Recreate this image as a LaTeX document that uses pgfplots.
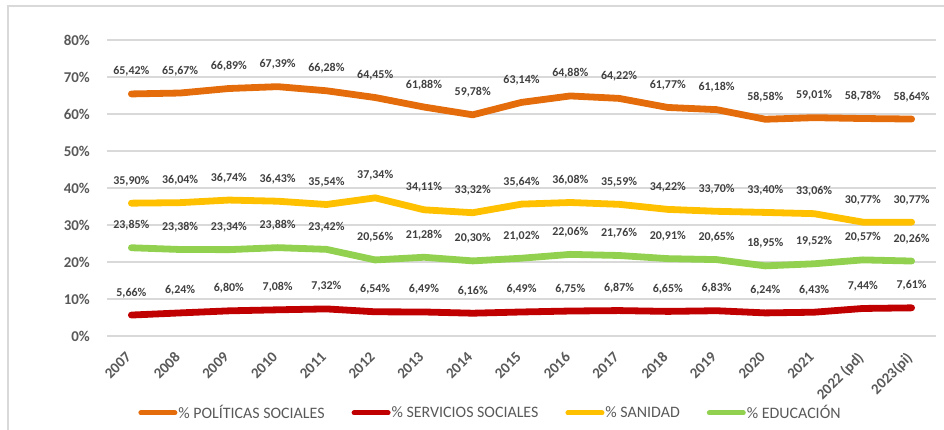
\documentclass[border=0pt]{standalone}
\usepackage{fontspec}
\setmainfont{Carlito}
\usepackage{pgfplots}
\pgfplotsset{compat=1.18}
\definecolor{cPol}{RGB}{228,108,10}
\definecolor{cSer}{RGB}{192,0,0}
\definecolor{cSan}{RGB}{255,192,0}
\definecolor{cEdu}{RGB}{146,208,80}
\definecolor{gridc}{RGB}{217,217,217}
\definecolor{tickc}{RGB}{89,89,89}
\definecolor{lblc}{RGB}{64,64,64}
\begin{document}
\begin{tikzpicture}
\useasboundingbox (0bp,0bp) rectangle (944bp,430bp);
\draw[gridc, line width=1.5bp] (8bp,-10bp) -- (8bp,424bp) -- (960bp,424bp);
\begin{axis}[
  at={(107bp,94bp)}, anchor=south west,
  scale only axis, width=829bp, height=296bp,
  xmin=-0.5, xmax=16.5, ymin=0, ymax=80,
  ytick={0,10,...,80},
  xtick={0,...,16},
  xticklabels={2007,2008,2009,2010,2011,2012,2013,2014,2015,2016,2017,2018,2019,2020,2021,2022 (pd),2023(pi)},
  axis line style={draw=none},
  major tick length=0pt,
  ymajorgrids, xmajorgrids=false, grid style={gridc, line width=1.5bp},
  clip=false,
  /pgf/number format/.cd, fixed, fixed zerofill, precision=2, use comma, assume math mode=true,
  /pgfplots/.cd,
  yticklabel={\pgfmathprintnumber[precision=0,fixed zerofill=false]{\tick}\%},
  yticklabel style={font=\fontsize{15}{15}\selectfont\bfseries, text=tickc, anchor=east, inner sep=0pt, xshift=-17bp},
  xticklabel style={font=\fontsize{15}{15}\selectfont\bfseries, text=tickc, rotate=45, anchor=north east, inner sep=0pt, xshift=-15bp, yshift=-6bp},
  nodes near coords={\pgfmathprintnumber{\pgfplotspointmeta}\%},
  every node near coord/.append style={font=\fontsize{12}{12}\selectfont\bfseries, text=lblc, inner sep=0pt, yshift=14bp},
  every axis plot/.append style={line width=6.8bp, line join=round, line cap=round, no markers},
  legend columns=4,
  legend style={at={(0.462,-0.26)}, anchor=center, draw=none, fill=none,
    font=\fontsize{16}{16}\selectfont, text=tickc,
    /tikz/every even column/.append style={column sep=26bp},
    inner sep=0pt, nodes={inner sep=1bp}},
  legend image code/.code={\draw[#1, line width=5bp, line cap=round] (0bp,0bp) -- (34bp,0bp);},
]
\addplot[cPol] coordinates {(0,65.42)(1,65.67)(2,66.89)(3,67.39)(4,66.28)(5,64.45)(6,61.88)(7,59.78)(8,63.14)(9,64.88)(10,64.22)(11,61.77)(12,61.18)(13,58.58)(14,59.01)(15,58.78)(16,58.64)};
\addlegendentry{\% POLÍTICAS SOCIALES}
\addplot[cSer] coordinates {(0,5.66)(1,6.24)(2,6.80)(3,7.08)(4,7.32)(5,6.54)(6,6.49)(7,6.16)(8,6.49)(9,6.75)(10,6.87)(11,6.65)(12,6.83)(13,6.24)(14,6.43)(15,7.44)(16,7.61)};
\addlegendentry{\% SERVICIOS SOCIALES}
\addplot[cSan] coordinates {(0,35.90)(1,36.04)(2,36.74)(3,36.43)(4,35.54)(5,37.34)(6,34.11)(7,33.32)(8,35.64)(9,36.08)(10,35.59)(11,34.22)(12,33.70)(13,33.40)(14,33.06)(15,30.77)(16,30.77)};
\addlegendentry{\% SANIDAD}
\addplot[cEdu] coordinates {(0,23.85)(1,23.38)(2,23.34)(3,23.88)(4,23.42)(5,20.56)(6,21.28)(7,20.30)(8,21.02)(9,22.06)(10,21.76)(11,20.91)(12,20.65)(13,18.95)(14,19.52)(15,20.57)(16,20.26)};
\addlegendentry{\% EDUCACIÓN}
\end{axis}
\end{tikzpicture}
\end{document}
